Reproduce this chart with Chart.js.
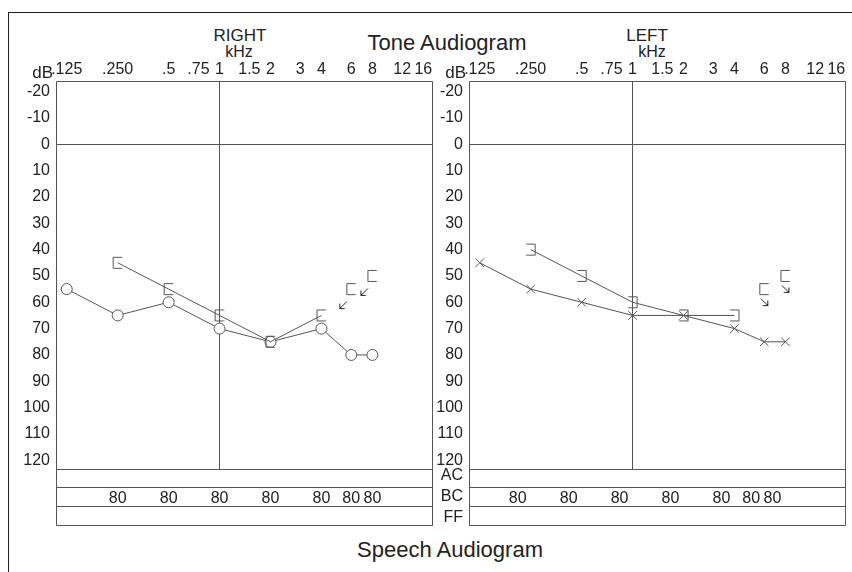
<!DOCTYPE html>
<html>
<head>
<meta charset="utf-8">
<script src="https://cdn.jsdelivr.net/npm/chart.js@4/dist/chart.umd.min.js"></script>
<style>
  body { margin: 0; background: #fff; font-family: "Liberation Sans", Arial, sans-serif; color: #222; }
  #wrap { position: relative; width: 852px; height: 572px; overflow: hidden; }
  #frame { position: absolute; left: 8px; top: 12px; width: 900px; height: 600px;
           border-top: 1.5px solid #222; border-left: 1.5px solid #222; }
  canvas { position: absolute; top: 0; }
  .t { position: absolute; transform: translate(-50%, -50%); white-space: nowrap; line-height: 1; }
</style>
</head>
<body>
<div id="wrap">
  <div id="frame"></div>
  <div class="t" style="left:240px;top:35px;font-size:17px">RIGHT</div>
  <div class="t" style="left:239px;top:52px;font-size:16px">kHz</div>
  <div class="t" style="left:447px;top:43px;font-size:22px">Tone Audiogram</div>
  <div class="t" style="left:647px;top:35px;font-size:17px">LEFT</div>
  <div class="t" style="left:652px;top:52px;font-size:16px">kHz</div>
  <div class="t" style="left:450px;top:550px;font-size:22px">Speech Audiogram</div>
  <canvas id="rightEar" width="440" height="572" style="left:0"></canvas>
  <canvas id="leftEar" width="422" height="572" style="left:430px"></canvas>
</div>
<script>
// frequency axis (kHz)
const xTicks = [0.125, 0.25, 0.5, 0.75, 1, 1.5, 2, 3, 4, 6, 8, 12, 16];
const xTickLabels = ['.125', '.250', '.5', '.75', '1', '1.5', '2', '3', '4', '6', '8', '12', '16'];
// hearing level axis (dB)
const yTicks = [-20, -10, 0, 10, 20, 30, 40, 50, 60, 70, 80, 90, 100, 110, 120];

// air conduction
const acFreqs = [0.125, 0.25, 0.5, 1, 2, 4, 6, 8];
const rightAC = [55, 65, 60, 70, 75, 70, 80, 80];
const leftAC = [45, 55, 60, 65, 65, 70, 75, 75];

// masked bone conduction
const bcFreqs = [0.25, 0.5, 1, 2, 4];
const rightBC = [45, 55, 65, 75, 65];
const leftBC = [40, 50, 60, 65, 65];

// bone conduction, no response
const nrFreqs = [6, 8];
const rightNR = [55, 50];
const leftNR = [55, 50];

// speech table, BC row masking levels
const maskFreqs = [0.25, 0.5, 1, 2, 4, 6, 8];
const rightMask = [80, 80, 80, 80, 80, 80, 80];
const leftMask = [80, 80, 80, 80, 80, 80, 80];

const lineColor = '#555';
const textColor = '#222';
const font = '"Liberation Sans", Arial, sans-serif';

function pts(xs, ys) {
  return xs.map((x, i) => ({ x: x, y: ys[i] }));
}

function bracket(open, arrow) {
  const s = 48, c = 24;
  const cv = document.createElement('canvas');
  cv.width = s; cv.height = s;
  const g = cv.getContext('2d');
  g.strokeStyle = lineColor;
  g.lineWidth = 1;
  const l = c - 4.5, r = c + 4.5, t = c - 5.5, b = c + 5.5;
  g.beginPath();
  if (open === 'right') {
    g.moveTo(r, t); g.lineTo(l, t); g.lineTo(l, b); g.lineTo(r, b);
  } else {
    g.moveTo(l, t); g.lineTo(r, t); g.lineTo(r, b); g.lineTo(l, b);
  }
  g.stroke();
  if (arrow) {
    let tx, ty, hx, hy, ax;
    g.strokeStyle = '#222';
    if (arrow === 'downLeft') {
      tx = c - 4.5; ty = c + 12.5; hx = c - 11.5; hy = c + 19.5; ax = 5;
    } else {
      tx = c - 3.5; ty = c + 9.5; hx = c + 3.5; hy = c + 16.5; ax = -5;
    }
    g.beginPath();
    g.moveTo(tx, ty); g.lineTo(hx, hy);
    g.moveTo(hx, hy - 5); g.lineTo(hx, hy); g.lineTo(hx + ax, hy);
    g.stroke();
  }
  return cv;
}

const panelPlugin = {
  id: 'panel',
  afterDraw(chart, args, opts) {
    const ctx = chart.ctx;
    const a = chart.chartArea;
    const xs = chart.scales.x;
    ctx.save();
    ctx.strokeStyle = lineColor;
    ctx.lineWidth = 1;
    const L = Math.round(a.left) + 0.5, R = Math.round(a.right) + 0.5;
    const T = Math.round(a.top) + 0.5, B = Math.round(a.bottom) + 0.5;
    const rows = [B, B + 18, B + 37, B + 56];
    ctx.beginPath();
    ctx.moveTo(L, T); ctx.lineTo(R, T); ctx.lineTo(R, rows[3]);
    ctx.lineTo(L, rows[3]); ctx.lineTo(L, T);
    rows.forEach(y => { ctx.moveTo(L, y); ctx.lineTo(R, y); });
    ctx.stroke();

    ctx.fillStyle = textColor;
    ctx.font = '17px ' + font;
    ctx.textAlign = 'right';
    ctx.textBaseline = 'middle';
    ctx.fillText('dB', a.left - 3, 73);

    if (opts.rowLabels) {
      ctx.font = '16px ' + font;
      ctx.fillText('AC', a.left - 6, B + 6);
      ctx.fillText('BC', a.left - 6, B + 27);
      ctx.fillText('FF', a.left - 6, B + 48);
    }

    ctx.font = '16px ' + font;
    ctx.textAlign = 'center';
    opts.maskFreqs.forEach((f, i) => {
      ctx.fillText(String(opts.mask[i]), xs.getPixelForValue(f) + opts.maskShift, B + 29);
    });
    ctx.restore();
  }
};

function makeChart(id, cfg) {
  return new Chart(document.getElementById(id).getContext('2d'), {
    type: 'line',
    data: { datasets: cfg.datasets },
    options: {
      responsive: false,
      animation: false,
      layout: { padding: cfg.padding },
      plugins: {
        legend: { display: false },
        tooltip: { enabled: false },
        panel: cfg.panel
      },
      scales: {
        x: {
          type: 'logarithmic',
          position: 'top',
          min: 0.108,
          max: 18,
          afterBuildTicks: s => { s.ticks = xTicks.map(v => ({ value: v })); },
          afterFit: s => { s.height = 24; },
          ticks: {
            autoSkip: false, maxRotation: 0, minRotation: 0, padding: 2,
            color: textColor, font: { family: font, size: 16 },
            callback: (v, i) => xTickLabels[i]
          },
          grid: {
            drawTicks: false,
            color: c => (c.tick && c.tick.value === 1 ? lineColor : 'rgba(0,0,0,0)')
          },
          border: { display: false }
        },
        y: {
          type: 'linear',
          reverse: true,
          min: -24,
          max: 123.3,
          afterBuildTicks: s => { s.ticks = yTicks.map(v => ({ value: v })); },
          afterFit: s => { s.width = cfg.yWidth; },
          ticks: {
            padding: 6, color: textColor, font: { family: font, size: 16 },
            callback: v => String(v)
          },
          grid: {
            drawTicks: false,
            color: c => (c.tick && c.tick.value === 0 ? lineColor : 'rgba(0,0,0,0)')
          },
          border: { display: false }
        }
      }
    },
    plugins: [panelPlugin]
  });
}

const lineBase = { borderColor: lineColor, borderWidth: 1, tension: 0, pointBorderColor: lineColor, pointBorderWidth: 1 };

makeChart('rightEar', {
  padding: { left: 0, right: 8, top: 57, bottom: 103 },
  yWidth: 56,
  panel: { rowLabels: false, maskFreqs: maskFreqs, mask: rightMask, maskShift: 0 },
  datasets: [
    Object.assign({ data: pts(bcFreqs, rightBC), pointStyle: bracket('right'), pointRadius: 6 }, lineBase),
    Object.assign({ data: pts(acFreqs, rightAC), pointStyle: 'circle', pointRadius: 5.5,
      pointBackgroundColor: '#fff' }, lineBase),
    Object.assign({ data: pts(nrFreqs, rightNR), showLine: false,
      pointStyle: bracket('right', 'downLeft'), pointRadius: 6 }, lineBase)
  ]
});

makeChart('leftEar', {
  padding: { left: 0, right: 7, top: 57, bottom: 103 },
  yWidth: 39,
  panel: { rowLabels: true, maskFreqs: maskFreqs, mask: leftMask, maskShift: -13 },
  datasets: [
    Object.assign({ data: pts(bcFreqs, leftBC), pointStyle: bracket('left'), pointRadius: 6 }, lineBase),
    Object.assign({ data: pts(acFreqs, leftAC), pointStyle: 'crossRot', pointRadius: 6 }, lineBase),
    Object.assign({ data: pts(nrFreqs, leftNR), showLine: false,
      pointStyle: bracket('right', 'downRight'), pointRadius: 6 }, lineBase)
  ]
});
</script>
</body>
</html>
